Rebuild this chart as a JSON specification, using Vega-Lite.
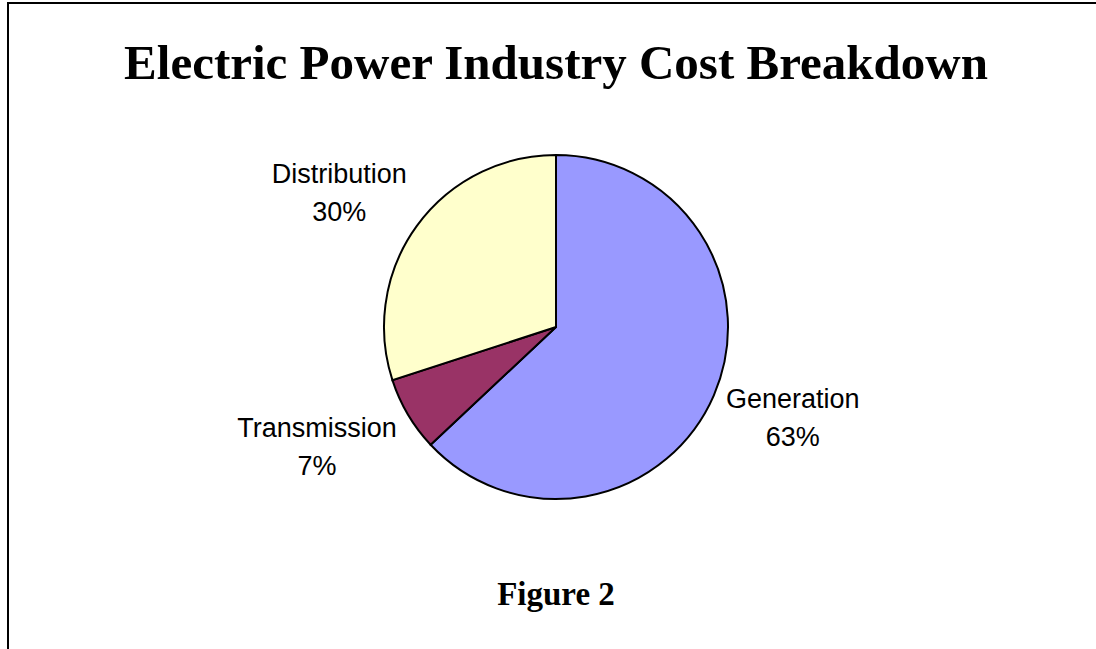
{
  "$schema": "https://vega.github.io/schema/vega-lite/v6.json",
  "width": 1096,
  "height": 648,
  "autosize": {"type": "none"},
  "padding": {"left": 8, "top": 3, "right": 0, "bottom": 0},
  "background": "white",
  "view": {"stroke": "black", "strokeWidth": 2, "fill": "white"},
  "title": {
    "text": "Electric Power Industry Cost Breakdown",
    "subtitle": "Figure 2",
    "anchor": "middle",
    "frame": "group",
    "orient": "top",
    "offset": -609,
    "font": "Liberation Serif",
    "fontSize": 49,
    "fontWeight": "bold",
    "color": "black",
    "subtitleFont": "Liberation Serif",
    "subtitleFontSize": 33,
    "subtitleFontWeight": "bold",
    "subtitleColor": "black",
    "subtitlePadding": 490
  },
  "data": {
    "values": [
      {"segment": "Generation", "share": 63, "label": "Generation\n63%", "rank": 1},
      {"segment": "Transmission", "share": 7, "label": "Transmission\n7%", "rank": 2},
      {"segment": "Distribution", "share": 30, "label": "Distribution\n30%", "rank": 3}
    ]
  },
  "encoding": {
    "theta": {"field": "share", "type": "quantitative", "stack": true},
    "order": {"field": "rank", "type": "quantitative"}
  },
  "layer": [
    {
      "mark": {"type": "arc", "outerRadius": 172, "stroke": "black", "strokeWidth": 2},
      "encoding": {
        "color": {
          "field": "segment",
          "type": "nominal",
          "scale": {"domain": ["Generation", "Transmission", "Distribution"], "range": ["#9999FF", "#993366", "#FFFFCC"]},
          "legend": null
        }
      }
    },
    {
      "mark": {"type": "text", "radius": 258, "dy": -29, "font": "Liberation Sans", "fontSize": 27, "lineHeight": 38, "lineBreak": "\n", "align": "center", "baseline": "middle", "color": "black"},
      "encoding": {"text": {"condition": {"test": "datum.segment === 'Generation'", "field": "label", "type": "nominal"}, "value": ""}}
    },
    {
      "mark": {"type": "text", "radius": 258, "dx": -17, "dy": -29, "font": "Liberation Sans", "fontSize": 27, "lineHeight": 38, "lineBreak": "\n", "align": "center", "baseline": "middle", "color": "black"},
      "encoding": {"text": {"condition": {"test": "datum.segment === 'Transmission'", "field": "label", "type": "nominal"}, "value": ""}}
    },
    {
      "mark": {"type": "text", "radius": 258, "dx": -8, "font": "Liberation Sans", "fontSize": 27, "lineHeight": 38, "lineBreak": "\n", "align": "center", "baseline": "middle", "color": "black"},
      "encoding": {"text": {"condition": {"test": "datum.segment === 'Distribution'", "field": "label", "type": "nominal"}, "value": ""}}
    }
  ]
}
